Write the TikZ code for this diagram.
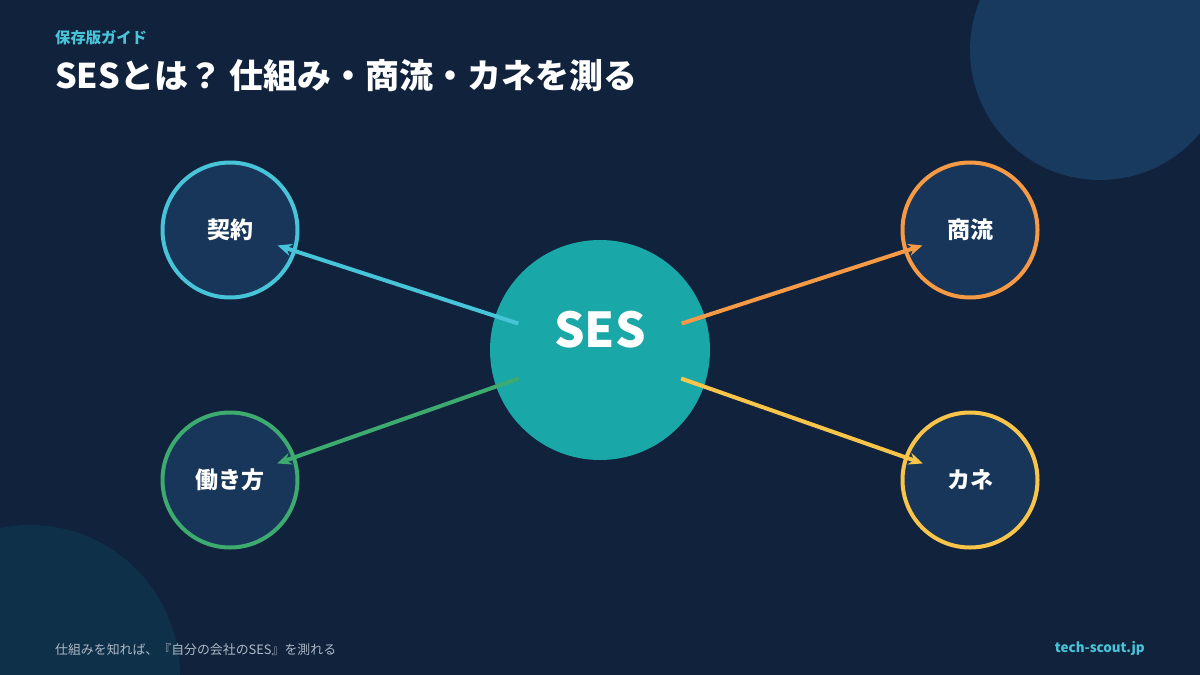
\documentclass[tikz,border=0pt]{standalone}
\usepackage{fontspec}
\setmainfont{Noto Sans CJK JP}
\usetikzlibrary{arrows.meta,positioning}
\definecolor{bgnavy}{HTML}{11223D}
\definecolor{decotop}{HTML}{173A5E}
\definecolor{decobot}{HTML}{0F3049}
\definecolor{topicfill}{HTML}{173659}
\definecolor{sesteal}{HTML}{1AA7A8}
\definecolor{keycyan}{HTML}{48C4D8}
\definecolor{keygreen}{HTML}{3DAA6F}
\definecolor{keyorange}{HTML}{F79A45}
\definecolor{keyyellow}{HTML}{F9C44A}
\definecolor{footgray}{HTML}{AEB9C6}

\begin{document}
\begin{tikzpicture}[x=1pt,y=-1pt,>={Stealth[length=14pt,width=12pt]},
  every node/.style={text=white,inner sep=0pt},
  topic/.style={circle,draw,line width=4pt,fill=topicfill,minimum size=135pt,
    font=\fontsize{23}{27}\selectfont\bfseries},
  link/.style={->,line width=4pt,shorten <=86pt,shorten >=50pt}]
 \useasboundingbox (0,0) rectangle (1200,675);
 \clip (0,0) rectangle (1200,675);
 \fill[bgnavy] (0,0) rectangle (1200,675);
 % decorative circles
 \fill[decotop] (1100,50) circle[radius=130pt];
 \fill[decobot] (30,675) circle[radius=150pt];
 % heading
 \node[anchor=west,text=keycyan,font=\fontsize{15.3}{18}\selectfont\bfseries]
   (kicker) at (55,38) {保存版ガイド};
 \node[anchor=west,font=\fontsize{34}{40}\selectfont\bfseries]
   (title) at (55,76) {SESとは？ 仕組み・商流・カネを測る};
 % hub and topics
 \node[circle,fill=sesteal,minimum size=220pt,
   label={[font=\fontsize{48}{54}\selectfont\bfseries,text=white,yshift=20pt]center:SES}]
   (ses) at (600,350) {};
 \node[topic,draw=keycyan] (keiyaku) at (230,230) {\raisebox{2pt}{契約}};
 \node[topic,draw=keygreen] (hataraki) at (230,480) {\raisebox{2pt}{働き方}};
 \node[topic,draw=keyorange] (shoryu) at (970,230) {\raisebox{2pt}{商流}};
 \node[topic,draw=keyyellow] (kane) at (970,480) {\raisebox{2pt}{カネ}};
 \draw[link,keycyan] (ses.center) -- (keiyaku.center);
 \draw[link,keygreen] (ses.center) -- (hataraki.center);
 \draw[link,keyorange] (ses.center) -- (shoryu.center);
 \draw[link,keyyellow] (ses.center) -- (kane.center);
 % footer
 \node[anchor=west,text=footgray,font=\fontsize{12.9}{15}\selectfont]
   (motto) at (55,650) {仕組みを知れば、『自分の会社のSES』を測れる};
 \node[anchor=east,text=keycyan,font=\fontsize{13.4}{16}\selectfont\bfseries]
   (site) at (1145,648) {tech-scout.jp};
\end{tikzpicture}
\end{document}
